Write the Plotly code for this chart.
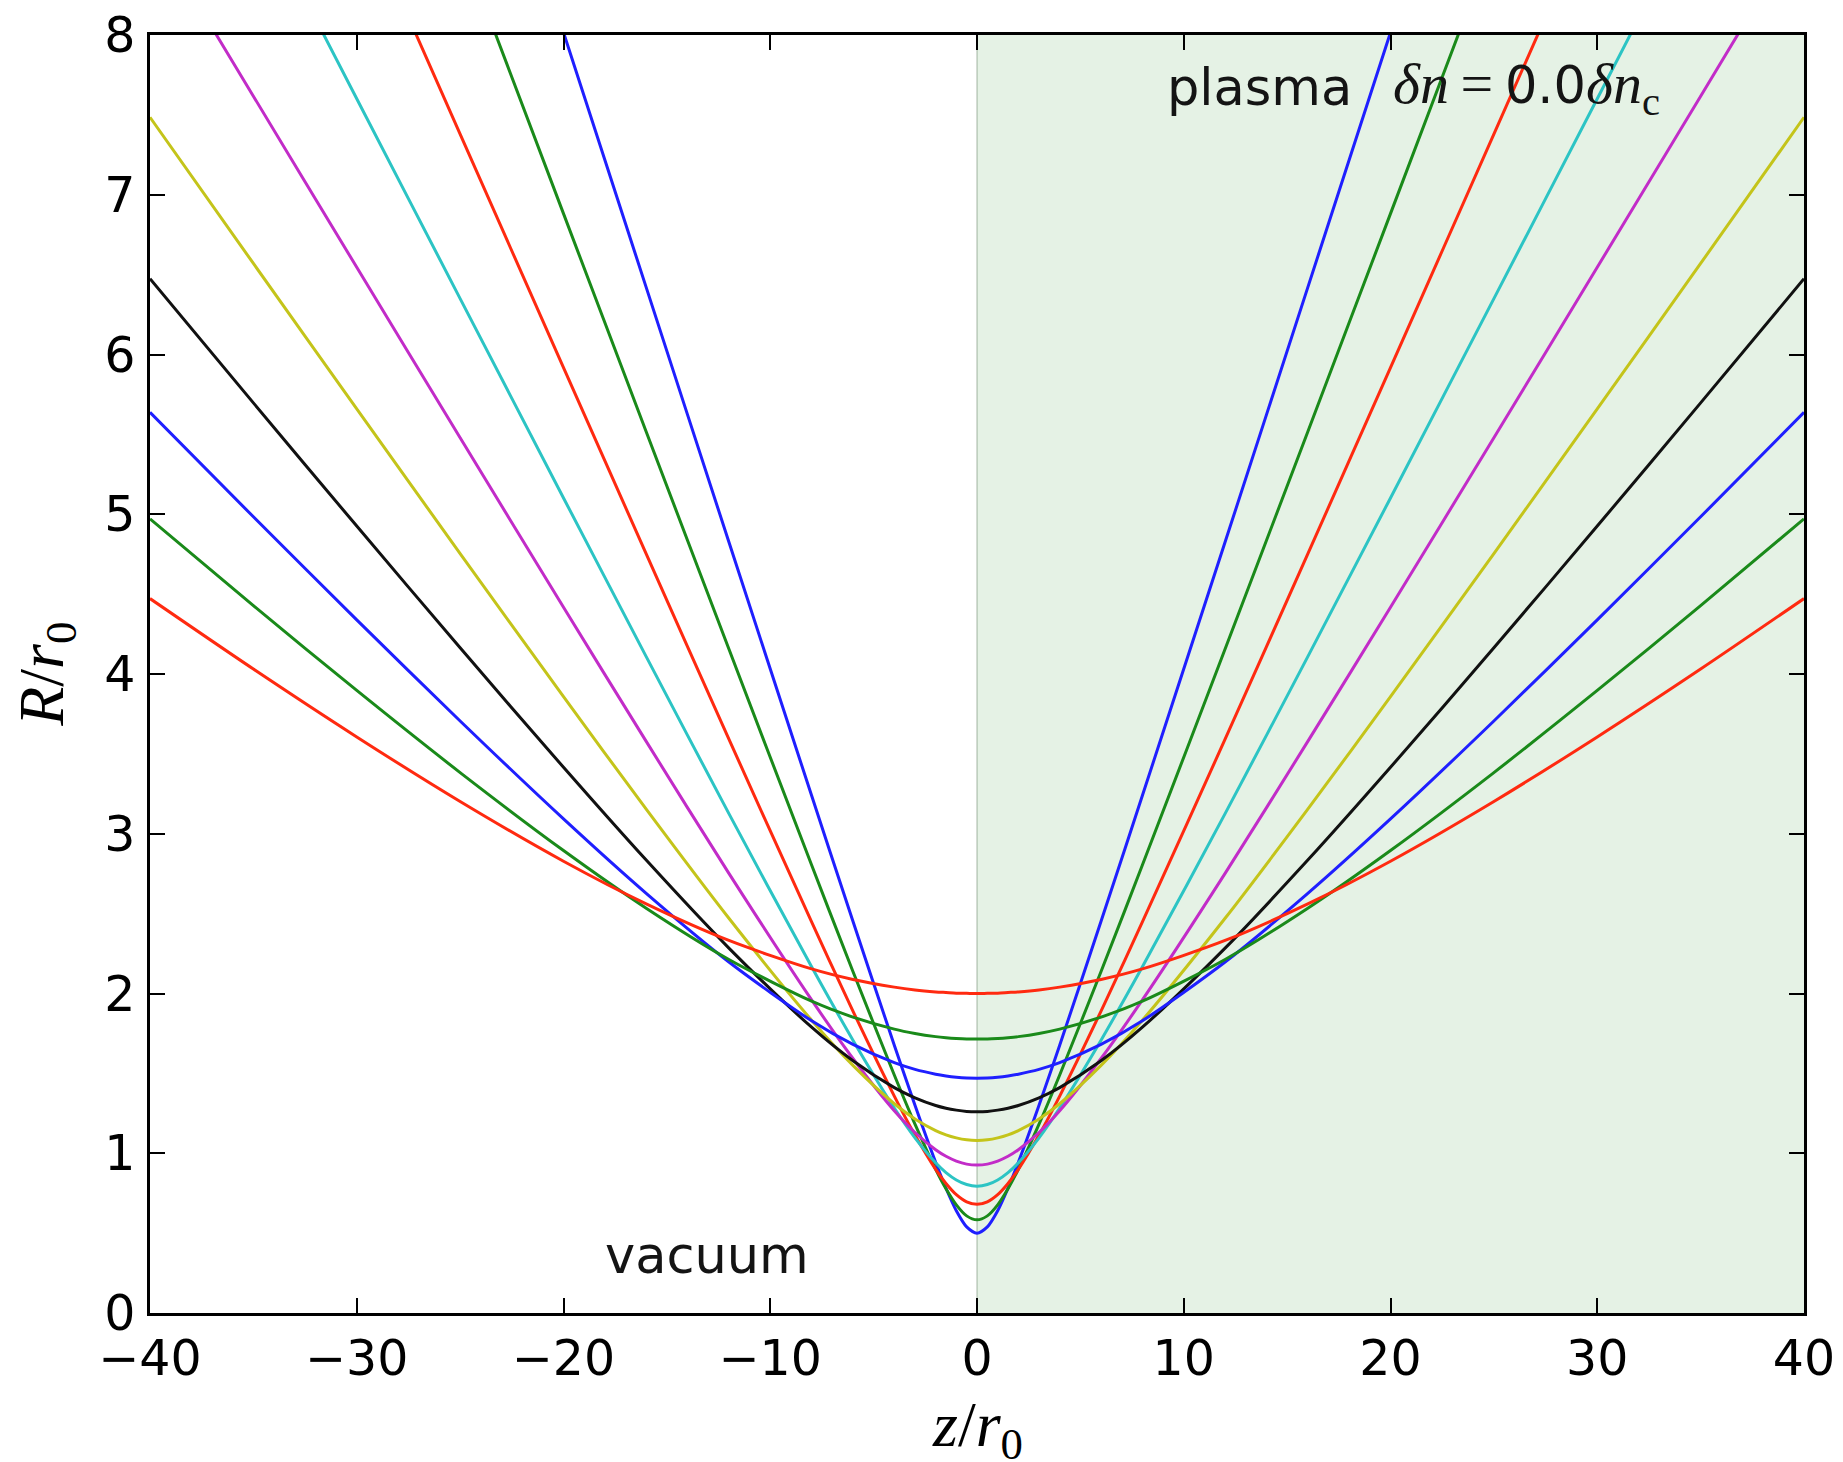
import plotly.graph_objects as go

# z/r0 sample positions
Z = [-40, -35, -30, -25, -20, -16, -12, -8, -6, -4, -3, -2, -1.5, -1, -0.5, 0,
     0.5, 1, 1.5, 2, 3, 4, 6, 8, 12, 16, 20, 25, 30, 35, 40]

# R/r0 values, one list per beam (smallest waist first)
R_050 = [16.008, 14.009, 12.010, 10.012, 8.016, 6.420, 4.826, 3.239, 2.452, 1.676, 1.300, 0.943, 0.781, 0.640, 0.539, 0.500,
         0.539, 0.640, 0.781, 0.943, 1.300, 1.676, 2.452, 3.239, 4.826, 6.420, 8.016, 10.012, 12.010, 14.009, 16.008]
R_058 = [13.726, 12.014, 10.302, 8.591, 6.882, 5.517, 4.156, 2.804, 2.138, 1.490, 1.182, 0.900, 0.778, 0.677, 0.608, 0.583,
         0.608, 0.677, 0.778, 0.900, 1.182, 1.490, 2.138, 2.804, 4.156, 5.517, 6.882, 8.591, 10.302, 12.014, 13.726]
R_068 = [11.777, 10.310, 8.844, 7.380, 5.918, 4.752, 3.592, 2.448, 1.890, 1.358, 1.114, 0.899, 0.811, 0.741, 0.696, 0.680,
         0.696, 0.741, 0.811, 0.899, 1.114, 1.358, 1.890, 2.448, 3.592, 4.752, 5.918, 7.380, 8.844, 10.310, 11.777]
R_079 = [10.110, 8.856, 7.601, 6.350, 5.102, 4.109, 3.126, 2.167, 1.708, 1.283, 1.096, 0.940, 0.879, 0.833, 0.804, 0.794,
         0.804, 0.833, 0.879, 0.940, 1.096, 1.283, 1.708, 2.167, 3.126, 4.109, 5.102, 6.350, 7.601, 8.856, 10.110]
R_093 = [8.690, 7.617, 6.546, 5.479, 4.418, 3.578, 2.752, 1.960, 1.593, 1.266, 1.130, 1.022, 0.981, 0.951, 0.932, 0.926,
         0.932, 0.951, 0.981, 1.022, 1.130, 1.266, 1.593, 1.960, 2.752, 3.578, 4.418, 5.479, 6.546, 7.617, 8.690]
R_108 = [7.485, 6.570, 5.659, 4.754, 3.858, 3.154, 2.471, 1.833, 1.550, 1.310, 1.215, 1.142, 1.115, 1.096, 1.084, 1.080,
         1.084, 1.096, 1.115, 1.142, 1.215, 1.310, 1.550, 1.833, 2.471, 3.154, 3.858, 4.754, 5.659, 6.570, 7.485]
R_126 = [6.474, 5.697, 4.926, 4.164, 3.416, 2.835, 2.284, 1.789, 1.579, 1.411, 1.347, 1.299, 1.282, 1.270, 1.262, 1.260,
         1.262, 1.270, 1.282, 1.299, 1.347, 1.411, 1.579, 1.789, 2.284, 2.835, 3.416, 4.164, 4.926, 5.697, 6.474]
R_147 = [5.638, 4.984, 4.339, 3.706, 3.093, 2.627, 2.197, 1.829, 1.681, 1.567, 1.525, 1.495, 1.484, 1.476, 1.471, 1.470,
         1.471, 1.476, 1.484, 1.495, 1.525, 1.567, 1.681, 1.829, 2.197, 2.627, 3.093, 3.706, 4.339, 4.984, 5.638]
R_171 = [4.971, 4.428, 3.897, 3.383, 2.895, 2.534, 2.213, 1.952, 1.852, 1.777, 1.750, 1.730, 1.723, 1.718, 1.715, 1.715,
         1.715, 1.718, 1.723, 1.730, 1.750, 1.777, 1.852, 1.952, 2.213, 2.534, 2.895, 3.383, 3.897, 4.428, 4.971]
R_200 = [4.472, 4.031, 3.606, 3.202, 2.828, 2.561, 2.332, 2.154, 2.088, 2.040, 2.022, 2.010, 2.006, 2.002, 2.001, 2.000,
         2.001, 2.002, 2.006, 2.010, 2.022, 2.040, 2.088, 2.154, 2.332, 2.561, 2.828, 3.202, 3.606, 4.031, 4.472]

SERIES = [R_050, R_058, R_068, R_079, R_093, R_108, R_126, R_147, R_171, R_200]
COLORS = ["#1f1fff", "#1a8a1a", "#ff2a10", "#2cc4c4", "#c22cc8", "#c4c41a", "#111111",
          "#1f1fff", "#1a8a1a", "#ff2a10"]

X_TICKS = [-40, -30, -20, -10, 0, 10, 20, 30, 40]
Y_TICKS = [0, 1, 2, 3, 4, 5, 6, 7, 8]

fig = go.Figure()
for r, c in zip(SERIES, COLORS):
    fig.add_trace(go.Scatter(x=Z, y=r, mode="lines",
                             line=dict(color=c, width=3, shape="spline", smoothing=0.8),
                             showlegend=False, hoverinfo="skip"))

# plasma region
fig.add_shape(type="rect", xref="x", yref="y", x0=0, x1=40, y0=0, y1=8,
              fillcolor="rgba(0,128,0,0.10)", line=dict(width=0), layer="below")
fig.add_shape(type="line", xref="x", yref="y", x0=0, x1=0, y0=0, y1=8,
              line=dict(color="rgba(60,90,60,0.22)", width=2), layer="below")

TICKFONT = dict(family="DejaVu Sans", size=49, color="black")
axis_common = dict(showgrid=False, zeroline=False, showline=True, linecolor="black",
                   linewidth=2.5, mirror="ticks", ticks="inside", ticklen=15,
                   tickwidth=1.5, tickcolor="black", tickfont=TICKFONT, automargin=False,
                   ticklabeloverflow="allow")

fig.update_xaxes(range=[-40, 40], tickvals=X_TICKS,
                 ticktext=[("\u2212" + str(-v)) if v < 0 else str(v) for v in X_TICKS],
                 ticklabelstandoff=0, **axis_common)
fig.update_yaxes(range=[0, 8], tickvals=Y_TICKS, ticktext=[str(v) for v in Y_TICKS],
                 ticklabelstandoff=2, **axis_common)

TXT = "#141414"
ann = []
ann.append(dict(xref="x", yref="y", x=9.1, y=7.67, xanchor="left", yanchor="middle",
                text="plasma", showarrow=False,
                font=dict(family="DejaVu Sans", size=51, color=TXT)))
ann.append(dict(xref="x", yref="y", x=20.0, y=7.67, xanchor="left", yanchor="middle",
                text='<i>δn</i>\u2009=\u2009<span style="font-family:DejaVu Sans;font-size:51px">0.0</span>'
                     '<i>δn</i><sub>c</sub>',
                showarrow=False,
                font=dict(family="Liberation Serif", size=58, color=TXT)))
ann.append(dict(xref="x", yref="y", x=-18.1, y=0.36, xanchor="left", yanchor="middle",
                text="vacuum", showarrow=False,
                font=dict(family="DejaVu Sans", size=51, color=TXT)))
# axis titles
ann.append(dict(xref="paper", yref="paper", x=0.5, y=-0.091, xanchor="center", yanchor="middle",
                text="<i>z</i>/<i>r</i><sub>0</sub>", showarrow=False,
                font=dict(family="Liberation Serif", size=64, color="black")))
ann.append(dict(xref="paper", yref="paper", x=-0.063, y=0.5, xanchor="center", yanchor="middle",
                text="<i>R</i>/<i>r</i><sub>0</sub>", showarrow=False, textangle=-90,
                font=dict(family="Liberation Serif", size=64, color="black")))

# the page body adds an 8 px offset, so the figure is 8 px smaller than the window
fig.update_layout(width=1835, height=1454, autosize=False,
                  margin=dict(l=142, r=39, t=27, b=149),
                  paper_bgcolor="white", plot_bgcolor="white",
                  annotations=ann)

fig.write_html("out.html")
